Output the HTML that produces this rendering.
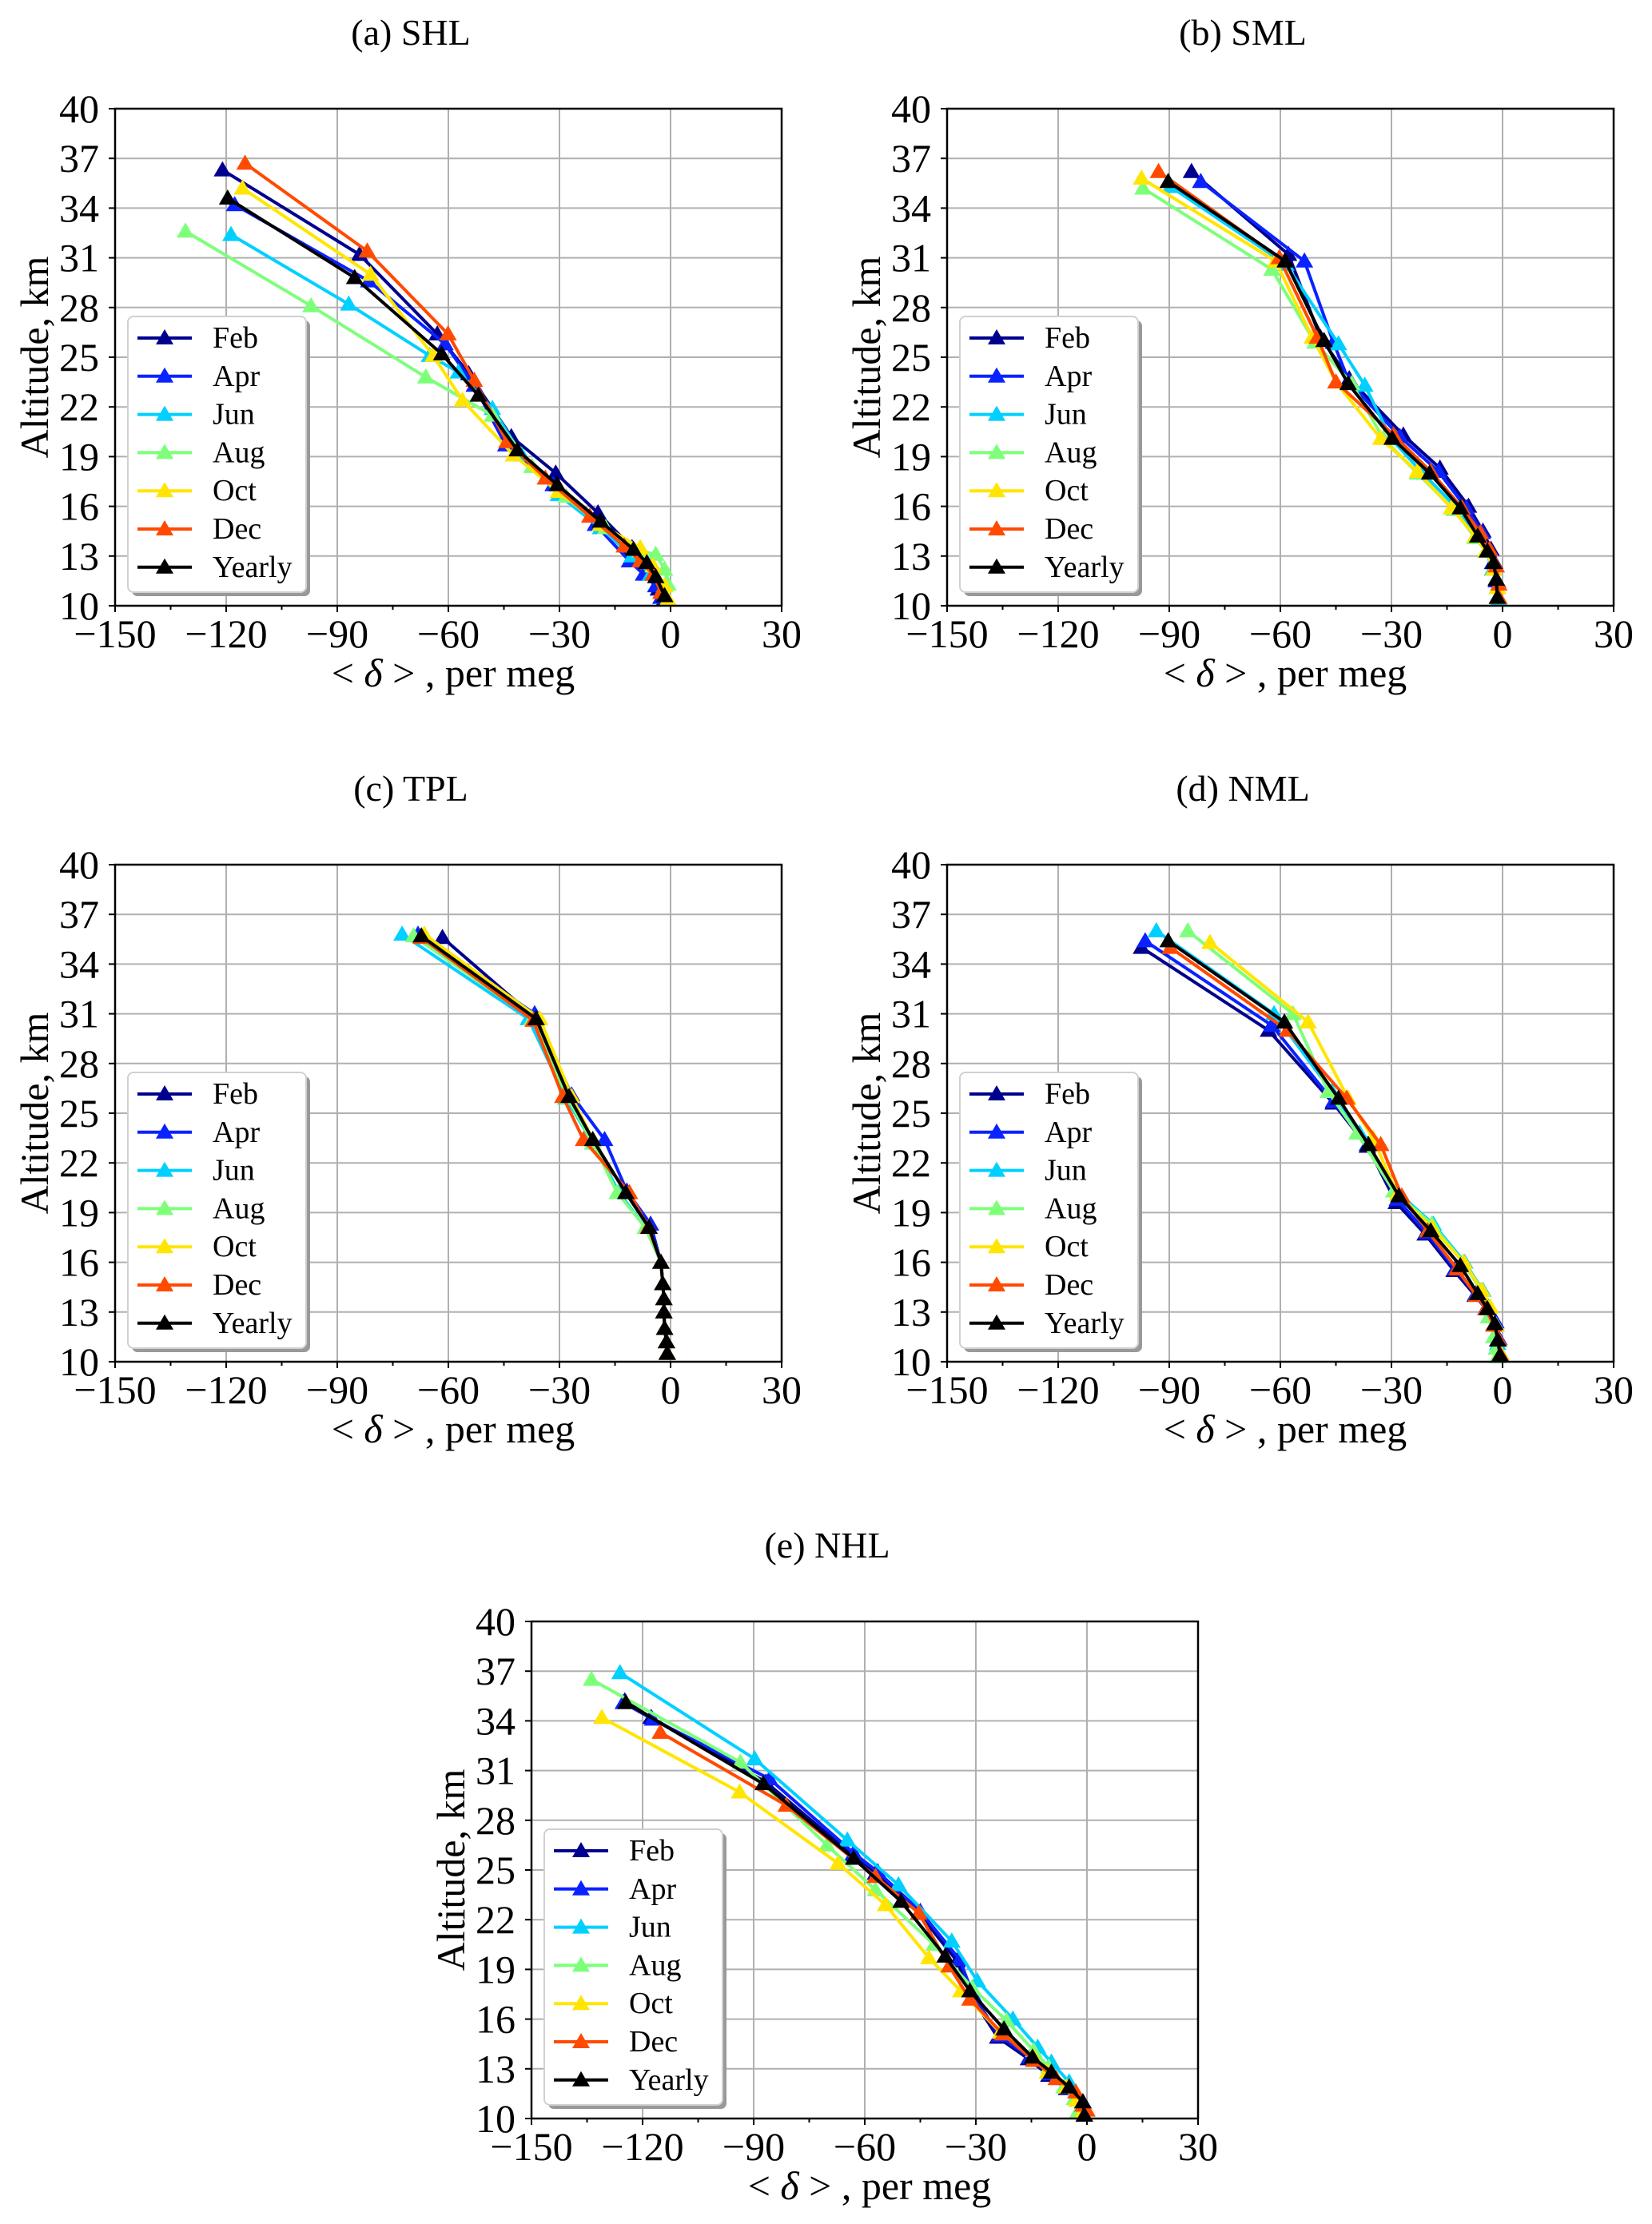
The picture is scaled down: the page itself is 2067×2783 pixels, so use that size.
<!DOCTYPE html>
<html><head><meta charset="utf-8"><style>
html,body{margin:0;padding:0;background:#fff;}
svg{display:block;font-family:"Liberation Serif",serif;}
</style></head><body>
<svg id="fig" width="2067" height="2783" viewBox="0 0 2067 2783" xmlns="http://www.w3.org/2000/svg"></svg>
<script>
// ---- data ----
const categories = ['Feb','Apr','Jun','Aug','Oct','Dec','Yearly'];
const seriesColors = ['#00008f','#0a22ff','#00d0ff','#7dff7a','#ffe500','#ff4a00','#000000'];
const xTicks = [-150,-120,-90,-60,-30,0,30];
const xMinorTicks = [-135,-105,-75,-45,-15,15];
const yTicks = [10,13,16,19,22,25,28,31,34,37,40];
const xTickLabels = ['\u2212150','\u2212120','\u221290','\u221260','\u221230','0','30'];
const yTickLabels = ['10','13','16','19','22','25','28','31','34','37','40'];

// (a) SHL
const shlFebDelta = [-121,-84,-63,-54.5,-43,-31,-19.6,-10.4,-6.8,-3.3,-1.6];
const shlFebAlt   = [36.3,31.2,26.4,24,20.2,18,15.6,13.5,12,11,10.4];
const shlAprDelta = [-117.7,-81.5,-60.9,-53,-44.5,-31.7,-20.3,-11.1,-7.3,-4,-2.6];
const shlAprAlt   = [34.2,29.6,25.8,23.3,19.7,17.3,14.9,12.7,11.9,11.2,10.5];
const shlJunDelta = [-118.7,-86.9,-65.1,-57.3,-48.1,-40.2,-30.3,-18.9,-10.4,-5.4,-1.8];
const shlJunAlt   = [32.4,28.2,25.1,24.1,21.9,19.1,16.7,14.7,13,11.9,10.8];
const shlAugDelta = [-131,-97.1,-66.1,-48.1,-37.4,-28.2,-17.5,-8.2,-4,-1.6,-0.7];
const shlAugAlt   = [32.6,28.1,23.8,21.5,18.4,16.6,14.7,13.3,13.1,12.2,11.3];
const shlOctDelta = [-115.6,-81,-64.1,-56.2,-42.4,-30.3,-18.9,-8.2,-4.7,-1.6,-0.7];
const shlOctAlt   = [35.2,30,25.1,22.4,19.1,16.9,14.9,13.5,12.4,11.2,10.4];
const shlDecDelta = [-114.9,-81.9,-60.1,-53,-44.2,-33.8,-21.8,-12.5,-8.2,-4.7,-2.6];
const shlDecAlt   = [36.7,31.4,26.4,23.6,19.9,17.7,15.4,13.6,12.7,11.9,10.8];
const shlYearlyDelta = [-119.6,-85.3,-61.8,-51.9,-41.4,-30.6,-18.9,-10,-6.4,-4,-1.6];
const shlYearlyAlt   = [34.6,29.8,25.2,22.7,19.4,17.3,15.1,13.4,12.6,11.75,10.6];

// (b) SML
const smlFebDelta = [-84,-57.8,-49.2,-41.4,-26.8,-16.9,-9.2,-5.3,-3.1,-2.1,-1.4,-1];
const smlFebAlt   = [36.2,31.2,26.2,23.7,20.3,18.3,16,14.5,13.4,12.6,11.5,10.5];
const smlAprDelta = [-81.5,-53.5,-45.7,-41.4,-27.7,-17.3,-9.8,-5.5,-3.8,-2.7,-1.7,-1.2];
const smlAprAlt   = [35.6,30.8,25.9,23.5,20.2,18.1,15.9,14.4,13.3,12.6,11.5,10.5];
const smlJunDelta = [-89.7,-58.5,-44.3,-37.2,-30.1,-21.6,-12.3,-6.7,-4.5,-2.7,-1.4,-1];
const smlJunAlt   = [35.3,30.6,25.8,23.3,20.1,18,15.9,14.2,13.3,12.2,11.1,10.4];
const smlAugDelta = [-97.1,-62.3,-50.7,-40.7,-32.2,-23,-13.1,-7.4,-4.5,-2.4,-1.4,-1];
const smlAugAlt   = [35.2,30.3,25.9,23.4,20.1,18,15.8,14.1,13.3,12.2,11.1,10.5];
const smlOctDelta = [-97.5,-61.3,-51.4,-45,-32.9,-23,-13.8,-7.4,-4.5,-2.4,-1.4,-1];
const smlOctAlt   = [35.8,30.8,26.2,23.5,20.1,18.1,15.9,14.2,13.3,12.2,11.1,10.5];
const smlDecDelta = [-92.9,-60.3,-50,-45,-29.4,-19.4,-10.9,-6,-3.5,-1.7,-1,-1];
const smlDecAlt   = [36.2,31,26.2,23.5,20.3,18.1,15.9,14.4,13.4,12.4,11.3,10.5];
const smlYearlyDelta = [-90.3,-58.7,-48.2,-41.7,-29.8,-19.7,-11.4,-6.7,-4.1,-2.4,-1.7,-1.4];
const smlYearlyAlt   = [35.6,30.8,26,23.4,20.1,18,15.9,14.2,13.3,12.6,11.6,10.5];

// (c) TPL
const tplFebDelta = [-61.6,-36.3,-27.4,-21,-12.1,-5.8,-2.6,-2.1,-1.8,-1.8,-1.6,-1.1,-0.9];
const tplFebAlt   = [35.6,30.7,26,23.4,20.2,18.1,16,14.7,13.8,13,12,11.2,10.5];
const tplAprDelta = [-68.2,-36.7,-26.7,-17.8,-11.8,-5.4,-2.6,-2.1,-1.8,-1.8,-1.6,-1.1,-0.9];
const tplAprAlt   = [35.8,31,26.1,23.4,20.3,18.3,16,14.7,13.8,13,12,11.2,10.5];
const tplJunDelta = [-72.5,-38.4,-28.2,-21,-13.9,-6.8,-2.6,-2.1,-1.8,-1.8,-1.6,-1.1,-0.9];
const tplJunAlt   = [35.8,30.7,25.9,23.2,20.2,18.1,16,14.7,13.8,13,12,11.2,10.5];
const tplAugDelta = [-69.4,-37.4,-27.7,-21,-14.4,-6.8,-2.6,-2.1,-1.8,-1.8,-1.6,-1.1,-0.9];
const tplAugAlt   = [35.7,30.7,25.9,23.2,20.2,18.1,16,14.7,13.8,13,12,11.2,10.5];
const tplOctDelta = [-66.5,-35.3,-26.7,-21,-12.1,-5.8,-2.6,-2.1,-1.8,-1.8,-1.6,-1.1,-0.9];
const tplOctAlt   = [35.8,30.7,26,23.4,20.2,18.1,16,14.7,13.8,13,12,11.2,10.5];
const tplDecDelta = [-67.3,-37.1,-29.1,-23.5,-11.1,-6,-2.6,-2.1,-1.8,-1.8,-1.6,-1.1,-0.9];
const tplDecAlt   = [35.6,30.6,26,23.4,20.2,18.1,16,14.7,13.8,13,12,11.2,10.5];
const tplYearlyDelta = [-67.3,-36.3,-27.4,-21,-12.1,-5.8,-2.6,-2.1,-1.8,-1.8,-1.6,-1.1,-0.9];
const tplYearlyAlt   = [35.7,30.7,26,23.4,20.2,18.1,16,14.7,13.8,13,12,11.2,10.5];

// (d) NML
const nmlFebDelta = [-97.5,-63.2,-45.7,-36.5,-28.7,-20.9,-13.1,-7.4,-4.5,-2.1,-1.3,-0.7];
const nmlFebAlt   = [35,30,25.6,23,19.6,17.7,15.5,14,13.2,12.3,11.3,10.4];
const nmlAprDelta = [-96.5,-62.3,-45.7,-36.5,-28.4,-20.5,-12.8,-7.2,-4.3,-1.8,-1,-0.5];
const nmlAprAlt   = [35.4,30.3,25.7,23.1,19.8,17.8,15.6,14.1,13.3,12.4,11.4,10.5];
const nmlJunDelta = [-93.5,-61.7,-46.1,-38.6,-28.7,-18.7,-10.2,-5.3,-3.8,-1.7,-1.3,-0.9];
const nmlJunAlt   = [36,31,26.3,23.8,20.3,18.3,16,14.3,13.3,12.2,11.1,10.4];
const nmlAugDelta = [-85,-56.6,-47.1,-39.3,-29.4,-19.1,-10.6,-5.8,-3.8,-2.4,-1.7,-1.4];
const nmlAugAlt   = [36,31,26.3,23.8,20.3,18.3,16,14.3,12.7,11.5,10.8,10.3];
const nmlOctDelta = [-79,-52.5,-41.7,-35,-28.4,-19.1,-10.4,-5.5,-3.3,-1.7,-1,-0.5];
const nmlOctAlt   = [35.3,30.5,25.9,23.5,20.1,18.1,16,14.3,13.3,12.2,11.3,10.5];
const nmlDecDelta = [-89.7,-58.1,-42.1,-32.9,-27.2,-20.2,-12.3,-7.1,-4.5,-2.4,-1,-0.5];
const nmlDecAlt   = [35,30,25.9,23.1,20,17.9,15.6,14,13.2,12.2,11.3,10.4];
const nmlYearlyDelta = [-90.3,-58.9,-44.3,-36.2,-28,-19.4,-11.4,-6.7,-4.1,-2.1,-1.3,-0.7];
const nmlYearlyAlt   = [35.4,30.5,25.9,23.1,20,17.9,15.8,14.1,13.2,12.3,11.3,10.4];

// (e) NHL
const nhlFebDelta = [-124.8,-117.7,-86.7,-63.3,-57.1,-45.4,-35.1,-31,-24.1,-15.8,-10.3,-5.5,-1.1,-0.7];
const nhlFebAlt   = [35.2,34.2,30.3,25.9,24.8,22.4,19.5,17.3,14.9,13.6,12.6,11.8,11,10.2];
const nhlAprDelta = [-125.2,-117.3,-85.7,-62.9,-56.5,-45,-34.4,-30.6,-23.6,-15.4,-10,-5.2,-1.1,-0.7];
const nhlAprAlt   = [35.1,34.1,30.5,26,24.9,22.5,19.6,17.4,15,13.7,12.7,11.9,11,10.2];
const nhlJunDelta = [-126.1,-89.7,-64.7,-50.9,-36.5,-29.6,-20,-13.3,-9.6,-4.8,-2.1,-1.1];
const nhlJunAlt   = [36.9,31.7,26.8,24.1,20.7,18.3,16,14.3,13.4,12.2,11.1,10.4];
const nhlAugDelta = [-133.8,-93.6,-70.2,-57.1,-41.3,-31,-21.7,-14.4,-10.3,-6.2,-3.4,-2.5];
const nhlAugAlt   = [36.5,31.5,26.5,23.8,20.5,17.9,15.9,14.1,13.1,11.9,11.2,10.4];
const nhlOctDelta = [-131,-93.8,-67.2,-54.4,-42.7,-34.1,-23.4,-14.4,-10.7,-5.5,-2.8,-1.1];
const nhlOctAlt   = [34.2,29.7,25.4,22.9,19.7,17.7,15.2,13.7,12.8,11.9,11.1,10.4];
const nhlDecDelta = [-115.2,-81.2,-57.1,-45.4,-37.2,-31.6,-22.7,-14.4,-8.3,-3,-1.1,0];
const nhlDecAlt   = [33.3,28.9,24.6,22.4,19.2,17.2,15.1,13.5,12.4,11.6,10.8,10.5];
const nhlYearlyDelta = [-124.5,-87.4,-63,-50.2,-38.3,-31.6,-22.4,-14.7,-9.6,-4.8,-1.1,-0.7];
const nhlYearlyAlt   = [35.1,30.2,25.7,23.1,19.8,17.7,15.4,13.7,12.8,11.9,11,10.2];

const panels = [
  {key:'shl', title:'(a) SHL', left:144, top:136,
   deltas:[shlFebDelta,shlAprDelta,shlJunDelta,shlAugDelta,shlOctDelta,shlDecDelta,shlYearlyDelta],
   alts:[shlFebAlt,shlAprAlt,shlJunAlt,shlAugAlt,shlOctAlt,shlDecAlt,shlYearlyAlt]},
  {key:'sml', title:'(b) SML', left:1185, top:136,
   deltas:[smlFebDelta,smlAprDelta,smlJunDelta,smlAugDelta,smlOctDelta,smlDecDelta,smlYearlyDelta],
   alts:[smlFebAlt,smlAprAlt,smlJunAlt,smlAugAlt,smlOctAlt,smlDecAlt,smlYearlyAlt]},
  {key:'tpl', title:'(c) TPL', left:144, top:1082,
   deltas:[tplFebDelta,tplAprDelta,tplJunDelta,tplAugDelta,tplOctDelta,tplDecDelta,tplYearlyDelta],
   alts:[tplFebAlt,tplAprAlt,tplJunAlt,tplAugAlt,tplOctAlt,tplDecAlt,tplYearlyAlt]},
  {key:'nml', title:'(d) NML', left:1185, top:1082,
   deltas:[nmlFebDelta,nmlAprDelta,nmlJunDelta,nmlAugDelta,nmlOctDelta,nmlDecDelta,nmlYearlyDelta],
   alts:[nmlFebAlt,nmlAprAlt,nmlJunAlt,nmlAugAlt,nmlOctAlt,nmlDecAlt,nmlYearlyAlt]},
  {key:'nhl', title:'(e) NHL', left:665, top:2029,
   deltas:[nhlFebDelta,nhlAprDelta,nhlJunDelta,nhlAugDelta,nhlOctDelta,nhlDecDelta,nhlYearlyDelta],
   alts:[nhlFebAlt,nhlAprAlt,nhlJunAlt,nhlAugAlt,nhlOctAlt,nhlDecAlt,nhlYearlyAlt]}
];

const W = 834, H = 622, XMIN = -150, XMAX = 30, YMIN = 10, YMAX = 40;
const NS = 'http://www.w3.org/2000/svg';
const svg = document.getElementById('fig');
function mk(tag, attrs, parent){
  const e = document.createElementNS(NS, tag);
  for (const k in attrs) e.setAttribute(k, attrs[k]);
  parent.appendChild(e);
  return e;
}
function tri(cx, cy){
  return `${cx},${cy-11} ${cx-11},${cy+8} ${cx+11},${cy+8}`;
}

panels.forEach(p => {
  const xs = v => p.left + (v - XMIN) / (XMAX - XMIN) * W;
  const ys = v => p.top + H - (v - YMIN) / (YMAX - YMIN) * H;
  const g = mk('g', {}, svg);
  
  

  const t = mk('text', {x: p.left + W/2 - 47, y: p.top - 80, 'font-size': 46, 'text-anchor':'middle'}, g);
  t.textContent = p.title;
  
  

  const grid = mk('g', {stroke:'#b0b0b0', 'stroke-width':2}, g);
  
  
  xTicks.forEach(v => mk('line', {x1: xs(v), x2: xs(v), y1: p.top, y2: p.top + H}, grid));
  yTicks.forEach(v => mk('line', {x1: p.left, x2: p.left + W, y1: ys(v), y2: ys(v)}, grid));

  const sg = mk('g', {}, g);
  
  
  categories.forEach((c, i) => {
    const d = p.deltas[i], a = p.alts[i];
    const s = mk('g', {}, sg);
    
    
    const pts = d.map((v, j) => xs(v).toFixed(1) + ',' + ys(a[j]).toFixed(1)).join(' ');
    mk('polyline', {points: pts, fill:'none', stroke: seriesColors[i], 'stroke-width':4, 'stroke-linejoin':'round'}, s);
    d.forEach((v, j) => {
      const m = mk('polygon', {points: tri(xs(v), ys(a[j])), fill: seriesColors[i]}, s);
      
      
    });
  });

  const fr = mk('rect', {x: p.left, y: p.top, width: W, height: H, fill:'none', stroke:'#000', 'stroke-width':2.5}, g);
  
  

  const tk = mk('g', {stroke:'#000', 'stroke-width':2}, g);
  xTicks.forEach(v => mk('line', {x1: xs(v), x2: xs(v), y1: p.top + H, y2: p.top + H + 8}, tk));
  xMinorTicks.forEach(v => mk('line', {x1: xs(v), x2: xs(v), y1: p.top + H, y2: p.top + H + 5}, tk));
  yTicks.forEach(v => mk('line', {x1: p.left - 8, x2: p.left, y1: ys(v), y2: ys(v)}, tk));

  const xl = mk('g', {'font-size':50, 'text-anchor':'middle'}, g);
  
  
  xTicks.forEach((v, i) => { const e = mk('text', {x: xs(v), y: p.top + H + 52}, xl); e.textContent = xTickLabels[i]; });
  const yl = mk('g', {'font-size':50, 'text-anchor':'end'}, g);
  
  
  yTicks.forEach((v, i) => { const e = mk('text', {x: p.left - 20, y: ys(v) + 17}, yl); e.textContent = yTickLabels[i]; });

  const xt = mk('text', {x: p.left + W/2 + 6, y: p.top + H + 101, 'font-size':50, 'text-anchor':'middle'}, g);
  
  
  xt.innerHTML = '&lt; <tspan font-style="italic">δ</tspan> &gt; , per meg';

  const yt = mk('text', {x: 0, y: 0, 'font-size':50, 'text-anchor':'middle', transform:`translate(${p.left - 84},${p.top + H/2}) rotate(-90)`}, g);
  
  
  yt.textContent = 'Altitude, km';

  const lx = p.left + 16, ly = p.top + H - 17 - 345;
  const lg = mk('g', {}, g);
  
  
  mk('rect', {x: lx + 5, y: ly + 5, width: 223, height: 345, rx: 7, fill:'#999'}, lg);
  mk('rect', {x: lx, y: ly, width: 223, height: 345, rx: 7, fill:'#fff', stroke:'#d0d0d0', 'stroke-width':2}, lg);
  categories.forEach((c, i) => {
    const ey = ly + 27 + i * 47.8;
    const le = mk('g', {}, lg);
    
    
    mk('line', {x1: lx + 12, x2: lx + 80, y1: ey, y2: ey, stroke: seriesColors[i], 'stroke-width':4}, le);
    mk('polygon', {points: tri(lx + 46, ey), fill: seriesColors[i]}, le);
    const tx = mk('text', {x: lx + 106, y: ey + 12, 'font-size':38}, le);
    tx.textContent = c;
  });
});
</script>
</body></html>
